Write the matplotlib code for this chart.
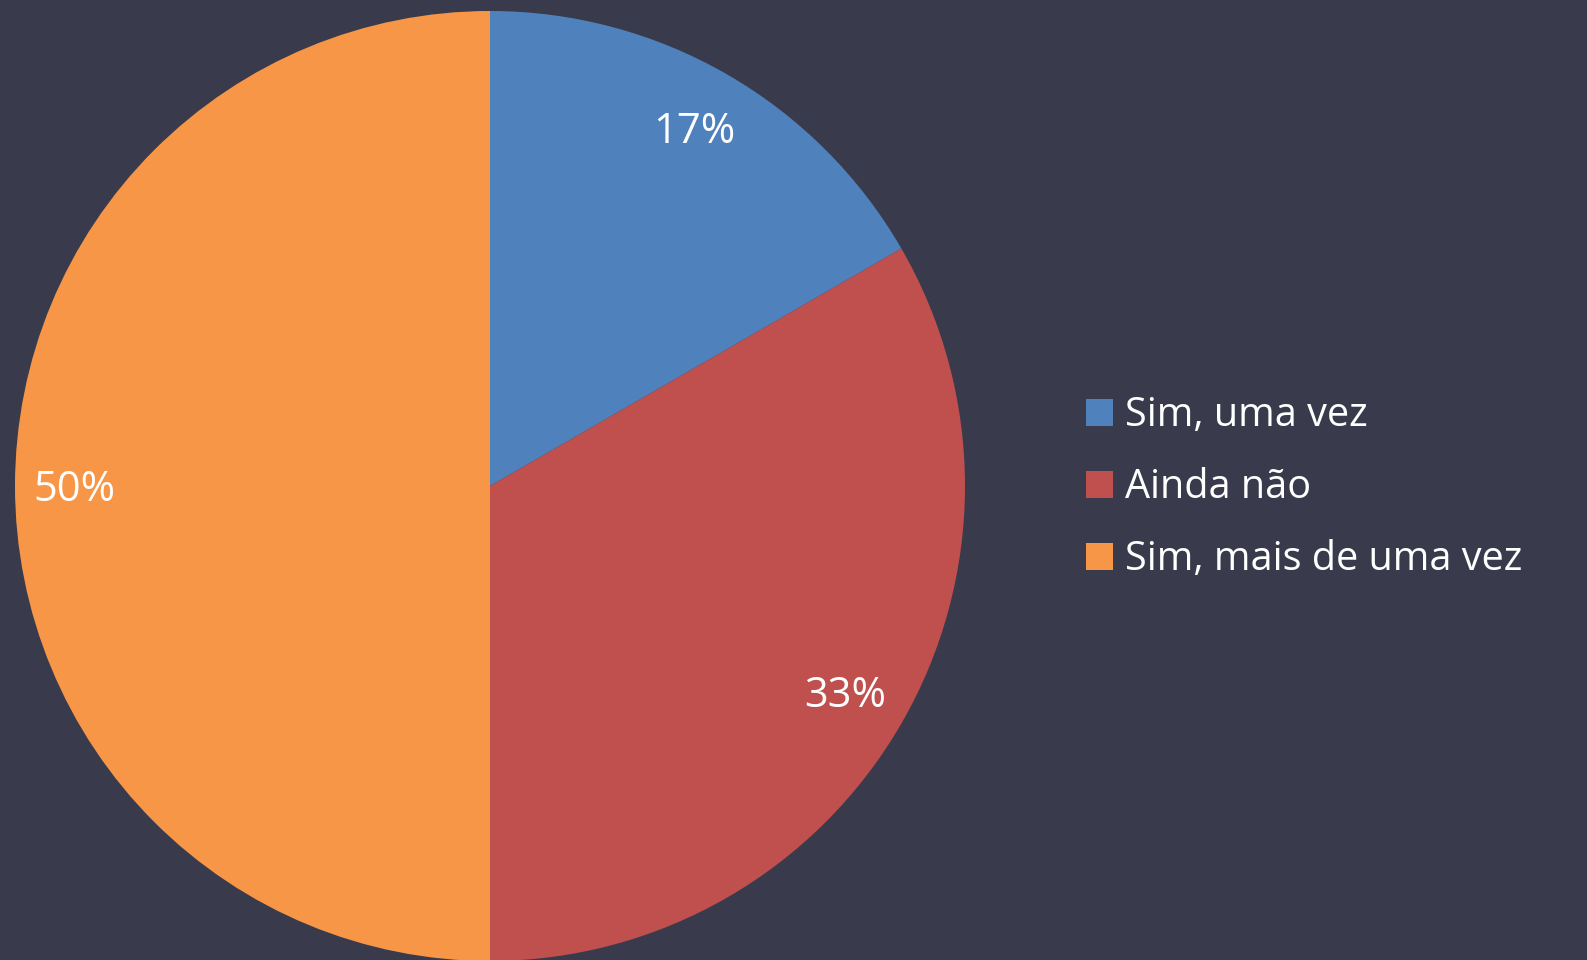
import matplotlib.pyplot as plt
from matplotlib.patches import Patch

labels = ['Sim, uma vez', 'Ainda não', 'Sim, mais de uma vez']
values = [1, 2, 3]
colors = ['#4F81BD', '#C0504D', '#F79646']
BG = '#393B4D'

plt.rcParams['font.family'] = ['Open Sans', 'DejaVu Sans']

fig = plt.figure(figsize=(15.87, 9.6), dpi=100, facecolor=BG)
W, H = 1587, 960
cx, cy, r = 490, 486, 475
ax = fig.add_axes([(cx - r) / W, (H - cy - r) / H, 2 * r / W, 2 * r / H])
ax.set_facecolor(BG)

wedges, texts, autotexts = ax.pie(values, colors=colors, startangle=90, counterclock=False,
                                  autopct='%1.0f%%', pctdistance=0.87, radius=1,
                                  textprops=dict(color='white', fontsize=30))
for t in autotexts:
    x, y = t.get_position()
    t.set_position((x - 0.005, y - 0.008))
ax.set_xlim(-1, 1)
ax.set_ylim(-1, 1)
ax.set_aspect('equal')
ax.axis('off')

handles = [Patch(facecolor=c, edgecolor='none') for c in colors]
fig.legend(handles, labels, loc='center left', bbox_to_anchor=(1086 / W, 1 - 488 / H),
           frameon=False, fontsize=28.5, labelcolor='white',
           handlelength=0.68, handleheight=0.68, handletextpad=0.3, labelspacing=0.8,
           borderaxespad=0, borderpad=0)

fig.savefig('out.png', dpi=100, facecolor=BG)
